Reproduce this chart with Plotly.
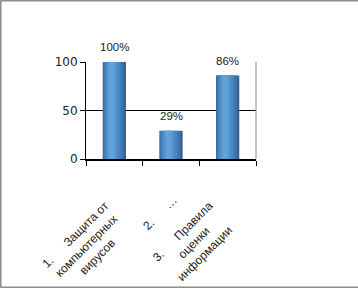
import plotly.graph_objects as go

categories = ["c1", "c2", "c3"]
values = [100, 29, 86]
value_labels = ["100%", "29%", "86%"]
tick_labels = [
    "1.\u00a0\u00a0\u00a0\u00a0\u00a0\u00a0Защита от<br>компьютерных<br>вирусов",
    "2.\u00a0\u00a0\u00a0\u00a0\u00a0\u00a0…",
    "3.\u00a0\u00a0\u00a0\u00a0\u00a0\u00a0Правила<br>оценки<br>информации",
]
y_ticks = [0, 50, 100]

W, H = 358, 288
L, R, T, B = 86, 102, 62, 129
PW, PH = W - L - R, H - T - B

FONT = "Liberation Sans"

fig = go.Figure()
# cylinder-like shading by layering bars of decreasing width
layers = [
    (0.41, 0.0, "#33628f"),
    (0.36, -0.015, "#3f75aa"),
    (0.28, -0.03, "#4a86c0"),
    (0.18, -0.04, "#5796cf"),
    (0.09, -0.045, "#62a2da"),
]
for w, off, col in layers:
    fig.add_trace(go.Bar(
        x=categories, y=values, width=w, offset=-w / 2 + off,
        marker=dict(color=col, line=dict(width=0)), hoverinfo="skip", showlegend=False,
    ))

# data labels
for c, v, t in zip(categories, values, value_labels):
    fig.add_annotation(x=c, y=v, xref="x", yref="y", text=t, showarrow=False,
                       yshift=15, font=dict(family=FONT, size=11.5, color="#222"))

# category labels (rotated, centred lines)
label_shifts = [(-28, -86), (-11, -54), (-34, -83)]
for c, t, (dx, dy) in zip(categories, tick_labels, label_shifts):
    fig.add_annotation(x=c, y=0, xref="x", yref="paper", text=t, showarrow=False,
                       textangle=-45, align="center", xanchor="center", yanchor="middle",
                       xshift=dx, yshift=dy,
                       font=dict(family=FONT, size=12, color="#222"))

# right border of plot area (gray)
fig.add_shape(type="line", xref="paper", yref="paper", x0=1, x1=1, y0=0, y1=1,
              line=dict(color="#8c8c8c", width=1))
# outer chart border (left, top, bottom)
x_left = (-L + 0.5) / PW
y_top = (PH + T - 0.5) / PH
y_bot = (-B + 0.5) / PH
x_right = (PW + R + 5) / PW
for x0, y0, x1, y1 in [(x_left, y_bot, x_left, y_top), (x_left, y_top, x_right, y_top),
                       (x_left, y_bot, x_right, y_bot)]:
    fig.add_shape(type="line", xref="paper", yref="paper", x0=x0, y0=y0, x1=x1, y1=y1,
                  line=dict(color="#8c8c8c", width=2))

fig.update_layout(
    width=W, height=H, autosize=False,
    margin=dict(l=L, r=R, t=T, b=B, pad=0),
    paper_bgcolor="white", plot_bgcolor="white",
    barmode="overlay", showlegend=False,
    font=dict(family=FONT, size=11, color="#222"),
)
fig.update_xaxes(
    type="category", categoryorder="array", categoryarray=categories,
    range=[-0.5, 2.5], showticklabels=False, tickson="boundaries",
    ticks="outside", ticklen=5, tickcolor="black", tickwidth=1,
    showline=True, linecolor="black", linewidth=2, showgrid=False, zeroline=False,
)
fig.update_yaxes(
    range=[0, 100], tickvals=y_ticks, ticks="outside", ticklen=5, tickcolor="black",
    showline=True, linecolor="black", linewidth=1,
    showgrid=True, gridcolor="black", gridwidth=1, zeroline=False,
    tickfont=dict(family="DejaVu Sans", size=12, color="#222"),
)

fig.write_html(
    "out.html",
    config={"displayModeBar": False, "staticPlot": True},
    post_script="document.body.style.margin='0';document.body.style.overflow='hidden';",
)
